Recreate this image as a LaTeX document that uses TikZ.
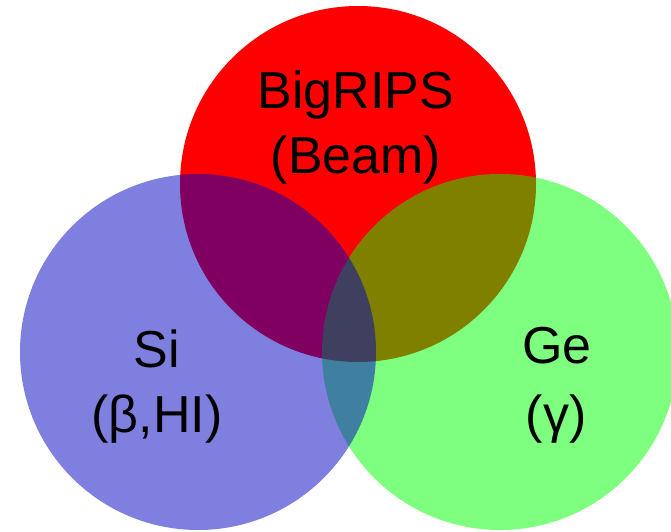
\documentclass[tikz,border=0pt]{standalone}
\usepackage{fontspec}
\setmainfont{Liberation Sans}
\definecolor{redc}{RGB}{255,0,0}
\definecolor{greenc}{RGB}{0,255,0}
\definecolor{bluec}{RGB}{0,0,192}
\begin{document}
\begin{tikzpicture}[x=1pt,y=1pt,
  lbl/.style={anchor=base,inner sep=0pt,font=\fontsize{52}{62}\selectfont,text=black}]
\useasboundingbox (0,0) rectangle (671,531);
\clip (0,0) rectangle (671,531);
\fill[redc] (358,347) circle (178);
\fill[greenc,fill opacity=0.5] (500,179) circle (178);
\fill[bluec,fill opacity=0.5] (198,179) circle (178);
\node[lbl] (big) at (356,422) {BigRIPS};
\node[lbl] (beam) at (356,357) {(Beam)};
\node[lbl] (si) at (157,164) {Si};
\node[lbl] (sib) at (157,99) {(β,HI)};
\node[lbl] (ge) at (557,168) {Ge};
\node[lbl] (gam) at (556,99) {(γ)};
\end{tikzpicture}
\end{document}
